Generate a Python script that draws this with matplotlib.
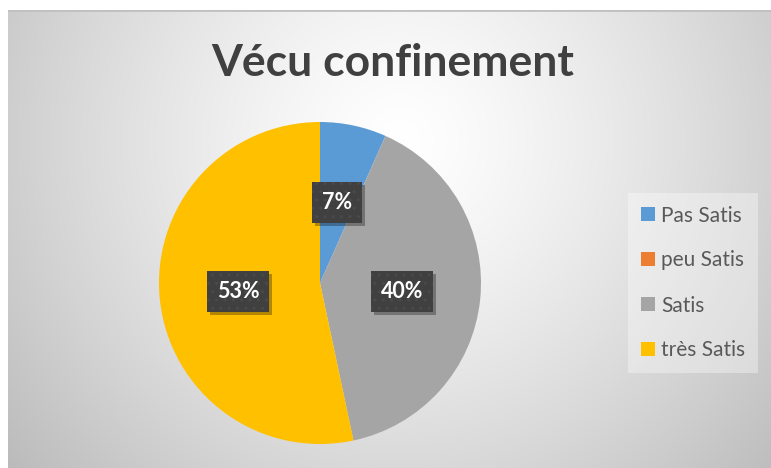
import numpy as np
import matplotlib
matplotlib.use("Agg")
import matplotlib.pyplot as plt
from matplotlib.patches import Patch, Rectangle
from matplotlib.transforms import IdentityTransform

# données
categories = ["Pas Satis", "peu Satis", "Satis", "très Satis"]
counts = [2, 0, 12, 16]
colors = ["#5B9BD5", "#ED7D31", "#A5A5A5", "#FFC000"]
title = "Vécu confinement"

plt.rcParams['font.family'] = ['Lato', 'DejaVu Sans']

W, H = 771, 468
fig = plt.figure(figsize=(W / 100, H / 100), dpi=100)
fig.patch.set_facecolor("white")

# fond dégradé radial (zone graphique)
x0, y0 = 8, 10
bg = fig.add_axes([x0 / W, 0, 1 - x0 / W, (H - y0) / H])
bg.set_axis_off()
xx, yy = np.meshgrid(np.arange(x0, W), np.arange(y0, H))
d = np.hypot(xx - 400, yy - 140) / 470
v = 1 - 0.24 * np.clip(d, 0, 1.2) ** 1.3
img = np.dstack([v, v, v])
bg.imshow(img, aspect="auto", extent=(0, 1, 0, 1), origin="upper")
bg.set_xlim(0, 1)
bg.set_ylim(0, 1)
bg.axhline(1, color="#c0c0c0", lw=2)

fig.text(393 / W, 1 - 63 / H, title, ha="center", va="center",
         fontsize=32, fontweight="bold", color="#404040")

# camembert
cx, cy, r = 320, 283, 161
ax = fig.add_axes([(cx - r) / W, (H - cy - r) / H, 2 * r / W, 2 * r / H])
wedges, _ = ax.pie(counts, colors=colors, startangle=90, counterclock=False,
                   wedgeprops=dict(linewidth=0))
ax.set_xlim(-1, 1)
ax.set_ylim(-1, 1)
ax.set_axis_off()

total = sum(counts)
angle = 90.0
labels = []
for n in counts:
    span = 360.0 * n / total
    if n > 0:
        mid = np.radians(angle - span / 2)
        lx, ly = 0.51 * np.cos(mid), 0.51 * np.sin(mid)
        t = ax.text(lx, ly, f"{100 * n / total:.0f}%", ha="center", va="center",
                    fontsize=15.5, fontweight="bold", color="white", zorder=4,
                    bbox=dict(boxstyle="square,pad=0.45", fc="#404040", ec="#4a4a4a",
                              lw=0, hatch=".."))
        labels.append(t)
    angle -= span

# ombres des étiquettes
fig.canvas.draw()
rend = fig.canvas.get_renderer()
for t in labels:
    bb = t.get_bbox_patch().get_window_extent(rend)
    ax.add_patch(Rectangle((bb.x0 + 3, bb.y0 - 3), bb.width, bb.height,
                           transform=IdentityTransform(), fc="black", ec="none",
                           alpha=0.3, zorder=3))

handles = [Patch(facecolor=c, edgecolor="none") for c in colors]
leg = fig.legend(handles, categories, loc="upper left",
                 bbox_to_anchor=(628 / W, 1 - 193 / H), frameon=True,
                 fontsize=15, labelspacing=1.2, handlelength=0.68,
                 handleheight=0.68, handletextpad=0.3, borderpad=0.6,
                 borderaxespad=0, fancybox=False, labelcolor="#595959")
leg.get_frame().set_facecolor("white")
leg.get_frame().set_alpha(0.35)
leg.get_frame().set_edgecolor("none")

fig.savefig("out.png", dpi=100, facecolor="white")
